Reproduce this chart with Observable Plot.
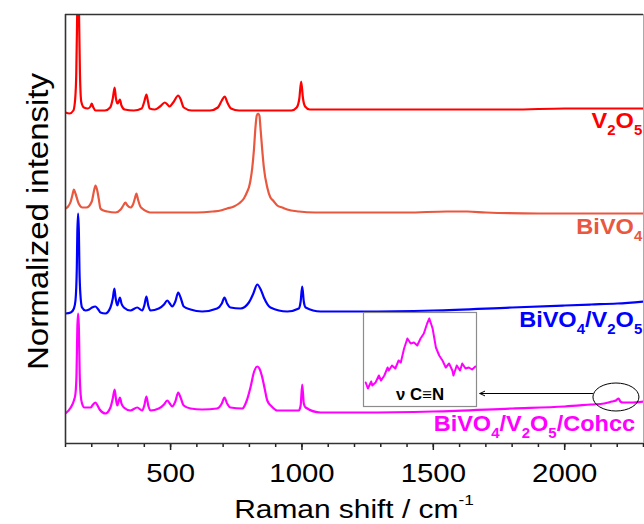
<!DOCTYPE html>
<html><head><meta charset="utf-8">
<script src="https://cdn.jsdelivr.net/npm/d3@7"></script>
<script src="https://cdn.jsdelivr.net/npm/@observablehq/plot@0.6"></script>
<style>
body{margin:0;background:#fff;}
#wrap{position:relative;width:644px;height:524px;overflow:hidden;background:#fff;}
#inset{position:absolute;left:363px;top:312px;}
</style></head><body><div id="wrap"></div>
<script>
// ---- data (Raman shift in cm-1, stacked normalized intensity) ----
const v2o5Shift = [100,115,130,137,141,144,148,152,155,160,170,185,195,200,206,215,250,270,280,287,292,298,303,307,313,325,360,390,400,408,414,420,440,460,478,488,496,510,529,537,550,580,650,680,695,706,716,730,760,900,960,980,990,997,1004,1012,1030,1200,1400,1600,1800,2000,2150,2300];
const v2o5Int   = [331,330,333,345,370,420,520,420,370,342,336,335,337,340,336,333,333,336,345,356,345,340,342,344,338,334,333,335,342,349,342,335,334,337,341,339,337,341,348,345,336,333,333,336,343,347,341,335,333,333,333,336,345,362,345,337,334,334,334,334,334,335,335,335];

const bivo4Shift = [100,110,120,126,132,138,150,165,180,200,208,214,220,227,233,245,259,290,310,320,328,336,347,357,364,370,376,385,392,410,423,500,600,660,690,703,715,741,760,779,792,798,804,811,817,823,828,833,838,842,849,855,868,880,890,906,925,944,988,1050,1200,1400,1550,1630,1700,1900,2100,2300];
const bivo4Int   = [235,237,242,248,254,250,240,236,236,242,252,258,254,244,235,233,232,231,234,238,241,238,236,239,245,250,244,237,235,232,231,231,231,232,233,234,235,237,240,245,252,256,263,276,293,316,328,330,328,316,293,276,256,246,243,238,236,234,232,231,231,231,232,232,231,230,230,230];

const mixShift = [100,120,132,138,143,145,148,151,153,157,163,176,190,201,214,225,233,252,271,280,286,291,297,302,307,313,322,347,373,392,400,408,415,423,455,475,487,497,506,518,529,538,550,576,620,677,695,705,715,728,766,798,815,830,843,855,880,944,988,995,1001,1007,1014,1071,1223,1500,1800,2000,2100,2200,2300];
const mixInt   = [130,131,135,143,175,210,230,210,175,148,136,133,134,136,137,134,131,130,136,145,155,145,138,142,146,140,136,133,136,133,138,147,138,133,135,139,143,140,137,142,151,146,137,134,132,135,140,146,140,136,135,141,150,159,154,146,136,132,135,142,157,142,136,132,132,133,136,138,139,140,142];

const cohccShift = [100,120,132,138,142,145,148,151,154,158,163,172,195,205,214,222,230,252,271,280,287,292,297,302,307,313,322,347,373,392,400,408,415,423,455,475,487,497,506,518,529,538,550,576,620,677,695,705,715,728,773,790,804,818,830,838,849,858,868,885,906,988,995,1001,1007,1014,1071,1223,1500,1800,2000,2100,2150,2180,2195,2205,2212,2222,2250,2300];
const cohccInt   = [30,36,43,50,70,115,130,115,70,48,40,36,36,39,41,38,34,30,36,45,54,45,38,42,46,40,36,33,36,33,38,47,38,33,35,39,43,40,37,42,51,46,38,35,34,35,40,46,40,36,35,43,56,72,77,75,66,55,43,37,33,33,38,59,40,36,31,31,32,35,37,39,40,42,43,45,42,41,41,42];

// inset: zoom of the C≡N band
const insetShift = [2150,2152,2155,2156,2159,2162,2164,2167,2170,2171,2174,2177,2180,2182,2185,2188,2191,2194,2197,2200,2203,2206,2208,2211,2214,2217,2220,2223,2226,2229,2230,2233,2236,2238,2241,2244,2247,2250];
const insetInt   = [33,27,34,30,33,40,35,40,48,45,50,47,55,53,67,77,72,73,70,77,82,92,97,87,68,60,55,48,52,45,40,50,45,52,47,48,46,49];

const majorTicks = [500,1000,1500,2000];
const minorTicks = d3.range(100, 2301, 100);

const seriesNames  = ["V2O5","BiVO4","BiVO4/V2O5","BiVO4/V2O5/Cohcc"];
const seriesColors = ["#ff0000","#e9573f","#0000ff","#ff00ff"];
const labelParts = [
  [["V",0],["2",1],["O",0],["5",1]],
  [["BiVO",0],["4",1]],
  [["BiVO",0],["4",1],["/V",0],["2",1],["O",0],["5",1]],
  [["BiVO",0],["4",1],["/V",0],["2",1],["O",0],["5",1],["/Cohcc",0]]
];
const labelY = [315, 209, 116, 12];
const labelX = [2297, 2297, 2297, 2270];
const arrowFrom = [2106, 50], arrowTo = [1677, 50];
const ellipseCenter = [2197, 46];

const toRows = (xs, ys, name) => xs.map((s, i) => ({shift: s, int: ys[i], name}));
const spectra = [
  toRows(v2o5Shift, v2o5Int, seriesNames[0]),
  toRows(bivo4Shift, bivo4Int, seriesNames[1]),
  toRows(mixShift, mixInt, seriesNames[2]),
  toRows(cohccShift, cohccInt, seriesNames[3])
];
const FONT = "'Liberation Sans', Arial, Helvetica, sans-serif";
const STRETCH = 1.15;
const LABEL_STRETCH = 1.07;

const plot = Plot.plot({
  width: 644, height: 524,
  marginLeft: 65, marginRight: 1, marginTop: 14, marginBottom: 81,
  style: {fontFamily: FONT, background: "#fff", color: "#000"},
  x: {domain: [100, 2300]},
  y: {domain: [0, 429], axis: null},
  marks: [
    ...spectra.map((rows, k) => Plot.line(rows, {x: "shift", y: "int", stroke: seriesColors[k], strokeWidth: 2.2, curve: "monotone-x", clip: true})),
    Plot.axisX({ticks: minorTicks, tickSize: 4, tickFormat: () => "", label: null, strokeWidth: 1.5, stroke: "#222"}),
    Plot.axisX({ticks: majorTicks, tickSize: 7, tickPadding: 13, fontSize: 25.5, label: null, tickFormat: d => String(d), strokeWidth: 1.5, stroke: "#222"}),
    Plot.ruleY([0], {stroke: "#333", strokeWidth: 1.6}),
    Plot.ruleY([429], {stroke: "#333", strokeWidth: 1.6}),
    Plot.ruleX([100], {stroke: "#333", strokeWidth: 1.6}),
    Plot.ruleX([2300], {stroke: "#aaa", strokeWidth: 1}),
    Plot.arrow([{x1: arrowFrom[0], y1: arrowFrom[1], x2: arrowTo[0], y2: arrowTo[1]}], {x1: "x1", y1: "y1", x2: "x2", y2: "y2", stroke: "#000", strokeWidth: 1, headLength: 8, headAngle: 50})
  ]
});

const wrap = document.getElementById("wrap");
wrap.appendChild(plot);
const sx = plot.scale("x"), sy = plot.scale("y");
const svg = d3.select(plot);

// stretch tick labels horizontally (reference glyphs are wide)
plot.querySelectorAll("text").forEach(t => {
  const tr = t.getAttribute("transform");
  if (tr) t.setAttribute("transform", tr + ` scale(${STRETCH},1)`);
  else { const x = +t.getAttribute("x") || 0; t.setAttribute("transform", `translate(${x},0) scale(${STRETCH},1) translate(${-x},0)`); }
});

// ellipse around the C≡N band
svg.append("ellipse")
  .attr("cx", sx.apply(ellipseCenter[0])).attr("cy", sy.apply(ellipseCenter[1]))
  .attr("rx", 23).attr("ry", 14)
  .attr("fill", "none").attr("stroke", "#000").attr("stroke-width", 1);

// series labels with subscripts
labelParts.forEach((parts, k) => {
  const g = svg.append("g").attr("transform", `translate(${sx.apply(labelX[k])},${sy.apply(labelY[k])}) scale(${LABEL_STRETCH},1)`);
  const t = g.append("text").attr("text-anchor", "end").attr("font-weight", "bold")
    .attr("fill", seriesColors[k]).attr("font-size", 22).attr("font-family", FONT);
  let cur = 0;
  parts.forEach(([s, sub]) => {
    const target = sub ? 7 : 0;
    const ts = t.append("tspan").text(s).attr("dy", target - cur);
    if (sub) ts.attr("font-size", 14);
    cur = target;
  });
});

// x-axis title with superscript
{
  const g = svg.append("g").attr("transform", `translate(354,518) scale(${STRETCH},1)`);
  const t = g.append("text").attr("text-anchor", "middle").attr("font-size", 26).attr("font-family", FONT).attr("fill", "#000");
  t.append("tspan").text("Raman shift / cm");
  t.append("tspan").text("-1").attr("font-size", 15).attr("dy", -13);
}
// y-axis title
{
  const g = svg.append("g").attr("transform", `translate(${65 - 28},${(14 + 443) / 2 - 7}) rotate(-90) scale(1.1,1)`);
  g.append("text").attr("text-anchor", "middle").attr("dy", "0.35em").attr("font-size", 30).attr("font-family", FONT).attr("fill", "#000").text("Normalized intensity");
}

// inset
const inset = Plot.plot({
  width: 113, height: 94, margin: 0,
  style: {fontFamily: FONT, background: "#fff", overflow: "visible"},
  x: {domain: [2148, 2251], axis: null},
  y: {domain: [9, 103], axis: null},
  marks: [
    Plot.line(insetShift.map((s, i) => ({shift: s, int: insetInt[i]})), {x: "shift", y: "int", stroke: "#ff00ff", strokeWidth: 2}),
    Plot.text(["ν C≡N"], {frameAnchor: "bottom", lineAnchor: "bottom", dy: -7, fontWeight: "bold", fontSize: 16, fill: "#000"}),
    Plot.frame({stroke: "#8c8c8c", strokeWidth: 1.2})
  ]
});
inset.id = "inset";
inset.querySelectorAll("text").forEach(t => {
  const tr = t.getAttribute("transform");
  if (tr) t.setAttribute("transform", tr + ` scale(1.05,1)`);
});
wrap.appendChild(inset);
</script></body></html>
